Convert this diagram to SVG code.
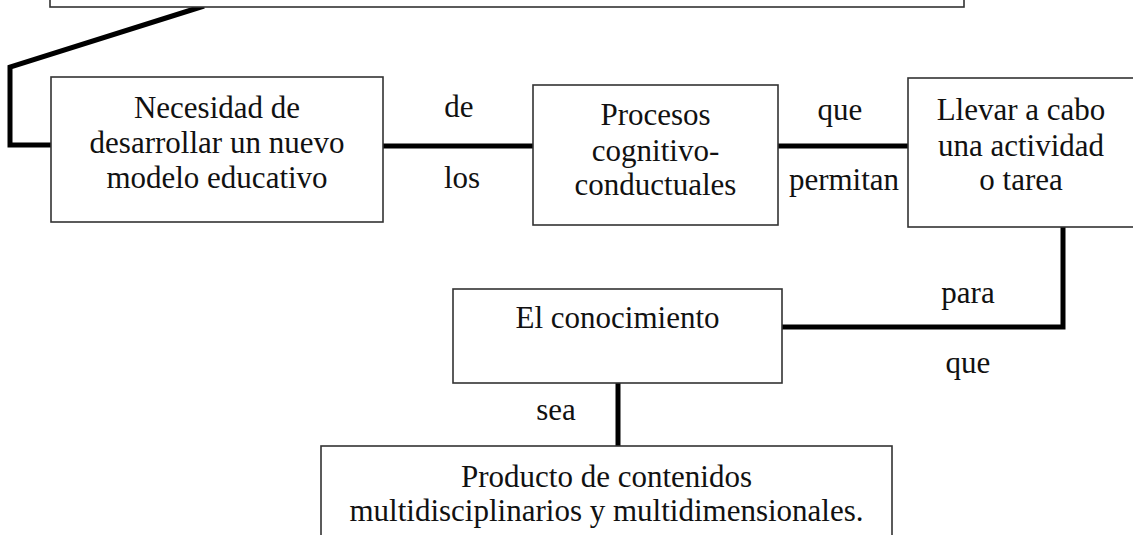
<svg xmlns="http://www.w3.org/2000/svg" width="1133" height="535" viewBox="0 0 1133 535">
<style>
.box{fill:#fff;stroke:#333;stroke-width:1.6}
.t{font-family:"Liberation Serif","Times New Roman",serif;font-size:31px;fill:#111;text-anchor:middle}
.c{fill:none;stroke:#000;stroke-width:5;stroke-linejoin:miter}
</style>
<rect width="1133" height="535" fill="#fff"/>
<g id="connectors">
<polyline class="c" points="204,6 10,67 10,145 51,145"/>
<line class="c" x1="383" y1="146" x2="533" y2="146"/>
<line class="c" x1="778" y1="146" x2="908" y2="146"/>
<polyline class="c" points="1063,227 1063,327 782,327"/>
<line class="c" x1="618" y1="383" x2="618" y2="446"/>
<text class="t" x="459" y="117">de</text>
<text class="t" x="462" y="188">los</text>
<text class="t" x="840" y="120">que</text>
<text class="t" x="844" y="190">permitan</text>
<text class="t" x="968" y="303">para</text>
<text class="t" x="968" y="373">que</text>
<text class="t" x="556" y="420">sea</text>
</g>
<g id="node-top">
<rect class="box" x="50" y="-10" width="914" height="17"/>
</g>
<g id="node-necesidad">
<rect class="box" x="51" y="77" width="332" height="145"/>
<text class="t" x="217" y="118">Necesidad de</text>
<text class="t" x="217" y="153">desarrollar un nuevo</text>
<text class="t" x="217" y="188">modelo educativo</text>
</g>
<g id="node-procesos">
<rect class="box" x="533" y="85" width="245" height="140"/>
<text class="t" x="655.5" y="125">Procesos</text>
<text class="t" x="655.5" y="161">cognitivo-</text>
<text class="t" x="655.5" y="195">conductuales</text>
</g>
<g id="node-llevar">
<rect class="box" x="908" y="78" width="240" height="149"/>
<text class="t" x="1021" y="120">Llevar a cabo</text>
<text class="t" x="1021" y="156">una actividad</text>
<text class="t" x="1021" y="190">o tarea</text>
</g>
<g id="node-conocimiento">
<rect class="box" x="453" y="289" width="329" height="94"/>
<text class="t" x="617.5" y="328">El conocimiento</text>
</g>
<g id="node-producto">
<rect class="box" x="321" y="446" width="571" height="100"/>
<text class="t" x="606.5" y="487">Producto de contenidos</text>
<text class="t" x="606.5" y="521">multidisciplinarios y multidimensionales.</text>
</g>
</svg>
